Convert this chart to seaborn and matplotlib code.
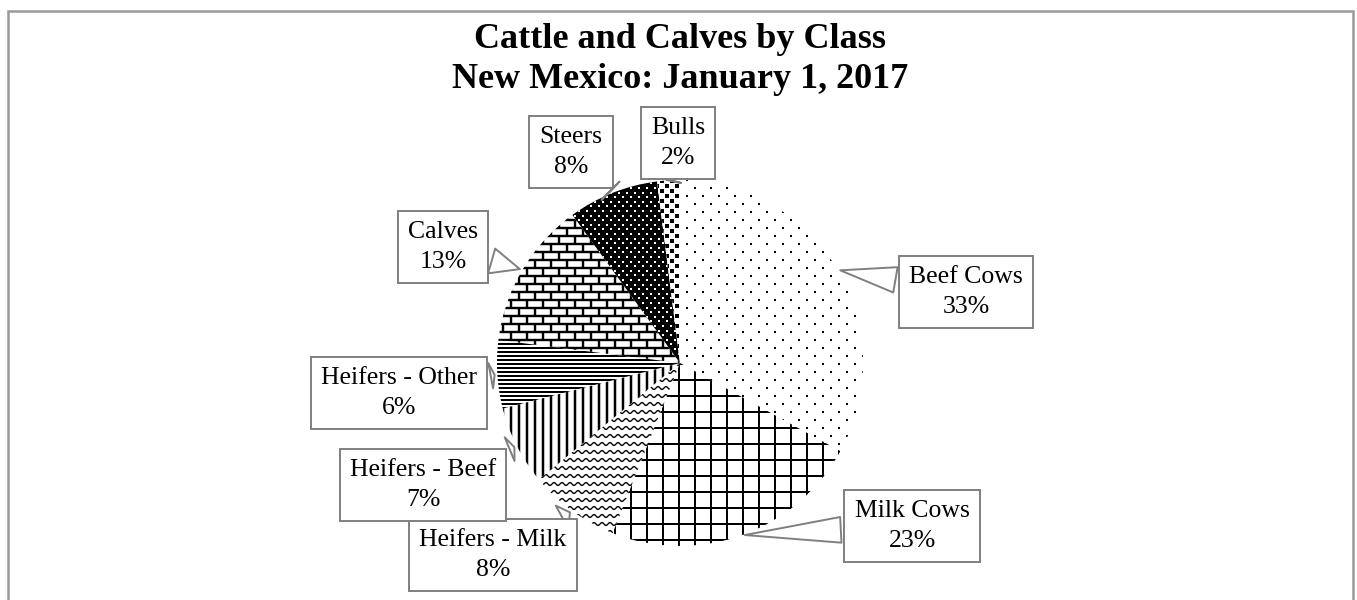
import numpy as np
import matplotlib
matplotlib.use("Agg")
import matplotlib.pyplot as plt
import seaborn as sns
from matplotlib.patches import Rectangle
from matplotlib.collections import LineCollection

# ---- data (clockwise from 12 o'clock)
classes = ["Beef Cows", "Milk Cows", "Heifers - Milk", "Heifers - Beef",
           "Heifers - Other", "Calves", "Steers", "Bulls"]
shares = [33, 23, 8, 7, 6, 13, 8, 2]

# ---- styles
textures = ["dots", "grid", "wave", "vlines", "hlines", "brick", "darkdots", "checker"]
# label box centres in pixel coords (x, y from top)
boxPos = [(966, 292), (912, 526), (493, 555), (423, 485),
          (399, 393), (443, 247), (571, 152), (678, 143)]

sns.set_theme(style="white")
plt.rcParams["font.family"] = ["Liberation Serif", "DejaVu Serif"]
plt.rcParams["text.color"] = "black"

W, H = 1357, 600
PX = 0.72  # points per pixel at dpi 100


def _clip(artist, wedge):
    artist.set_clip_path(wedge)
    return artist


def _hlines(ax, wedge, box, step, lw):
    (x0, y0, x1, y1) = box
    segs = [[(x0, y), (x1, y)] for y in np.arange(y0, y1, step)]
    ax.add_collection(_clip(LineCollection(segs, colors="black", linewidths=lw * PX), wedge))


def _vlines(ax, wedge, box, step, lw):
    (x0, y0, x1, y1) = box
    segs = [[(x, y0), (x, y1)] for x in np.arange(x0, x1, step)]
    ax.add_collection(_clip(LineCollection(segs, colors="black", linewidths=lw * PX), wedge))


def _dots(ax, wedge, box, dx, dy, size, color):
    (x0, y0, x1, y1) = box
    pts = []
    for i, y in enumerate(np.arange(y0, y1, dy)):
        off = (dx / 2) * (i % 2)
        pts += [(x, y) for x in np.arange(x0 + off, x1, dx)]
    pts = np.array(pts)
    sc = ax.scatter(pts[:, 0], pts[:, 1], s=(size * PX) ** 2, marker="s",
                    c=color, linewidths=0, zorder=2)
    _clip(sc, wedge)


def drawTexture(ax, wedge, kind, box):
    (x0, y0, x1, y1) = box
    if kind == "dots":
        _dots(ax, wedge, box, 16, 8, 2, "black")
    elif kind == "grid":
        _hlines(ax, wedge, box, 16, 2)
        _vlines(ax, wedge, box, 16, 2)
    elif kind == "vlines":
        _vlines(ax, wedge, box, 8, 2.5)
    elif kind == "hlines":
        _hlines(ax, wedge, box, 4, 2)
    elif kind == "wave":
        xs = np.arange(x0, x1, 0.5)
        segs = [np.column_stack([xs, y + 1.4 * np.sin(xs * 2 * np.pi / 8)])
                for y in np.arange(y0, y1, 8)]
        ax.add_collection(_clip(LineCollection(segs, colors="black", linewidths=1.4 * PX), wedge))
    elif kind == "brick":
        _hlines(ax, wedge, box, 8, 2.4)
        segs = []
        for i, y in enumerate(np.arange(y0, y1, 8)):
            off = 8 * (i % 2)
            segs += [[(x, y), (x, y + 8)] for x in np.arange(x0 + off, x1, 16)]
        ax.add_collection(_clip(LineCollection(segs, colors="black", linewidths=2.4 * PX), wedge))
    elif kind == "darkdots":
        _dots(ax, wedge, box, 8, 4.6, 2, "white")
    elif kind == "checker":
        _dots(ax, wedge, box, 10, 5, 5, "black")


fig = plt.figure(figsize=(W / 100, H / 100), dpi=100)
ax = fig.add_axes([0, 0, 1, 1])

cx, cy, r = 680, H - 363, 183
faces = ["black" if t == "darkdots" else "white" for t in textures]
wedges, _ = ax.pie(shares, startangle=90, counterclock=False,
                   center=(cx, cy), radius=r, frame=True, colors=faces,
                   wedgeprops=dict(linewidth=0))
ax.set_xlim(0, W)
ax.set_ylim(0, H)
ax.axis("off")

area = (cx - r - 10, cy - r - 10, cx + r + 10, cy + r + 10)
for w, kind in zip(wedges, textures):
    drawTexture(ax, w, kind, area)

# figure border
ax.add_patch(Rectangle((8, -5), W - 4 - 8, H - 11 + 5, fill=False,
                       ec="#9a9a9a", lw=1.8))

ax.text(cx, H - 60, "Cattle and Calves by Class\nNew Mexico: January 1, 2017",
        ha="center", va="center", fontsize=26, fontweight="bold",
        linespacing=1.28, color="black")

for w, name, pct, (bx, by) in zip(wedges, classes, shares, boxPos):
    ang = np.deg2rad((w.theta1 + w.theta2) / 2)
    px, py = cx + r * np.cos(ang), cy + r * np.sin(ang)
    ax.annotate("{}\n{}%".format(name, pct), xy=(px, py), xytext=(bx, H - by),
                ha="center", va="center", fontsize=18.5, linespacing=1.45,
                color="black", zorder=5,
                bbox=dict(boxstyle="square,pad=0.4", fc="white", ec="#7f7f7f", lw=1.4),
                arrowprops=dict(arrowstyle="wedge,tail_width=1.0,shrink_factor=0.5",
                                fc="white", ec="#7f7f7f", lw=1.4))

fig.savefig("out.png", dpi=100)
